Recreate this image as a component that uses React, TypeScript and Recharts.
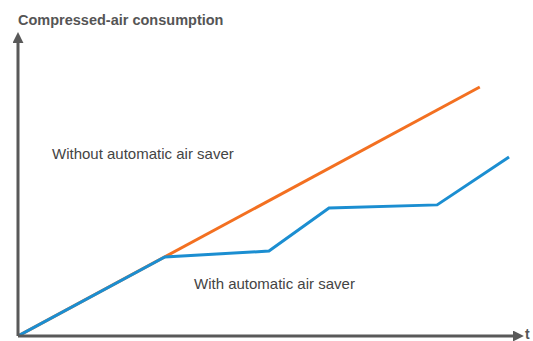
import React from 'react';
import { LineChart, Line, XAxis, YAxis } from 'recharts';

const withoutSaverX = [0, 9.31];
const withoutSaverY = [0, 8.47];
const withSaverX = [0, 2.96, 5.06, 6.27, 8.45, 9.9];
const withSaverY = [0, 2.69, 2.89, 4.35, 4.46, 6.09];

const withoutData = withoutSaverX.map((t, i) => ({ t, v: withoutSaverY[i] }));
const withData = withSaverX.map((t, i) => ({ t, v: withSaverY[i] }));

const title = 'Compressed-air consumption';
const xLabel = 't';
const labelWithout = 'Without automatic air saver';
const labelWith = 'With automatic air saver';

const font = '"Liberation Sans", Arial, Helvetica, sans-serif';

export default function App() {
  return (
    <div style={{ position: 'absolute', left: 0, top: 0, width: 533, height: 341, background: '#fff' }}>
      <LineChart width={533} height={341} margin={{ top: 42, right: 19, bottom: 4, left: 17 }}>
        <defs>
          <marker id="arr" viewBox="0 0 10 10" refX="1" refY="5" markerWidth="11" markerHeight="11" markerUnits="userSpaceOnUse" orient="auto-start-reverse">
            <path d="M0,0 L10,5 L0,10 z" fill="#595959" />
          </marker>
        </defs>
        <XAxis type="number" dataKey="t" domain={[0, 10]} height={1} tick={false} tickLine={false}
          axisLine={{ stroke: '#595959', strokeWidth: 3, markerEnd: 'url(#arr)' }} allowDataOverflow />
        <YAxis type="number" dataKey="v" domain={[0, 10]} width={1} tick={false} tickLine={false}
          axisLine={{ stroke: '#595959', strokeWidth: 3, markerStart: 'url(#arr)' }} allowDataOverflow />
        <Line data={withoutData} dataKey="v" stroke="#f37021" strokeWidth={3} dot={false} isAnimationActive={false} />
        <Line data={withData} dataKey="v" stroke="#1b8ed1" strokeWidth={3} dot={false} isAnimationActive={false} />
        <text x={18} y={25} fontFamily={font} fontSize={14.5} fontWeight="bold" fill="#555">{title}</text>
        <text x={525} y={339} fontFamily={font} fontSize={14} fontWeight="bold" fill="#555">{xLabel}</text>
        <text x={52} y={159} fontFamily={font} fontSize={15} fill="#444">{labelWithout}</text>
        <text x={194} y={289} fontFamily={font} fontSize={15} fill="#444">{labelWith}</text>
      </LineChart>
    </div>
  );
}
